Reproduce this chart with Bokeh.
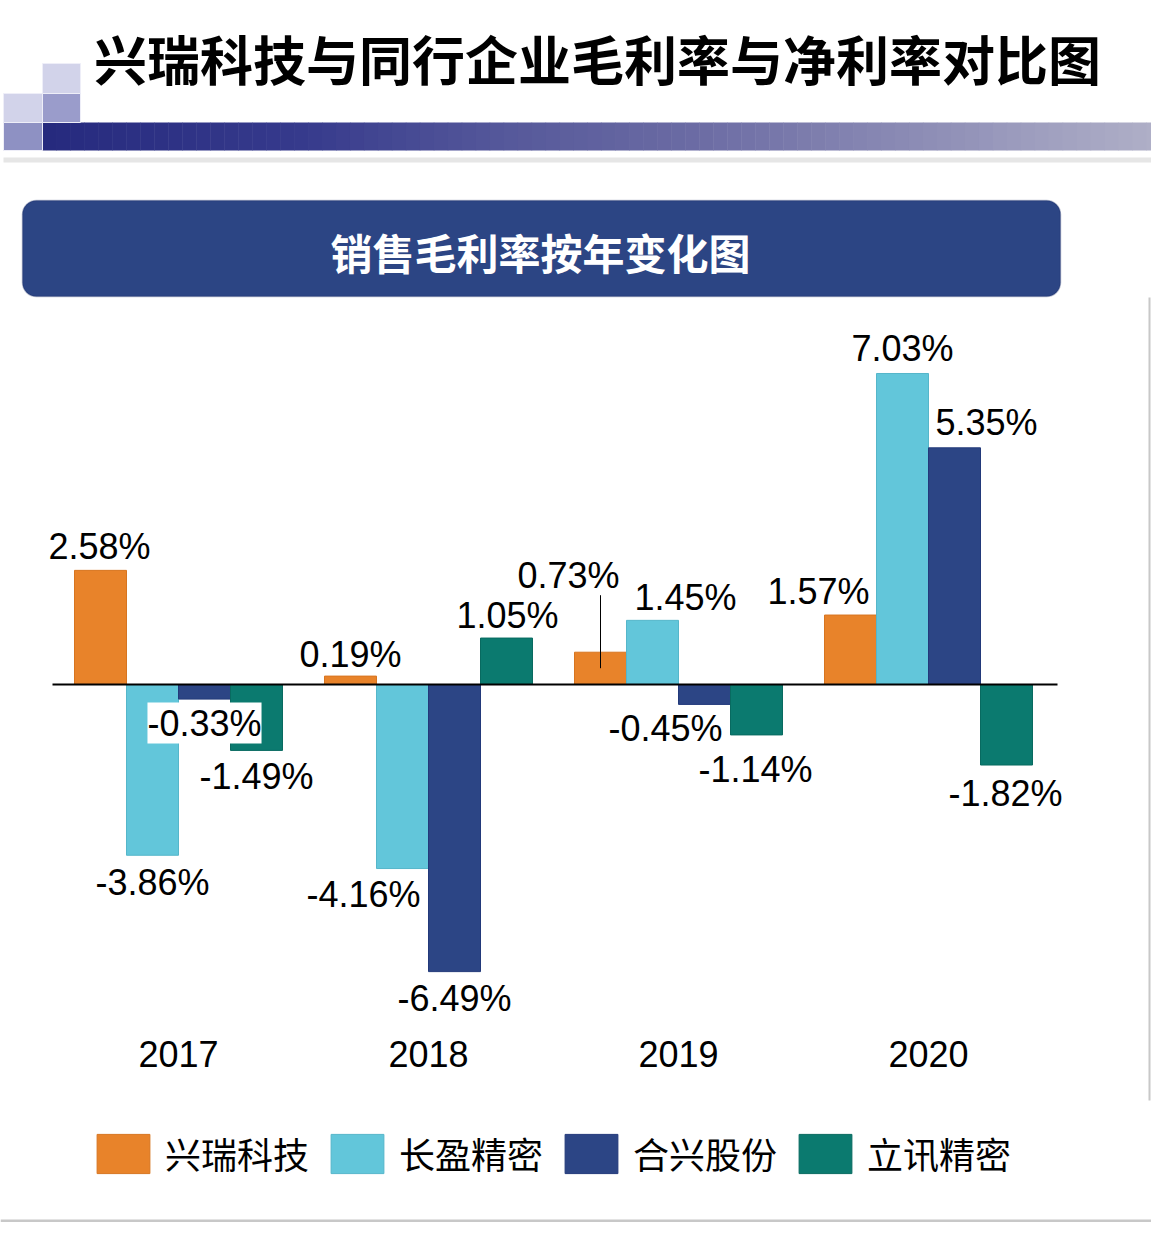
from bokeh.plotting import figure
from bokeh.models import (ColumnDataSource, LabelSet, Label, BoxAnnotation,
                          Legend, LegendItem)
from bokeh.transform import dodge
from bokeh.core.properties import value
from bokeh.embed import file_html
from bokeh.resources import INLINE

# ---------------- data ----------------
years = ["2017", "2018", "2019", "2020"]
companies = ["兴瑞科技", "长盈精密", "合兴股份", "立讯精密"]
xingrui = [2.58, 0.19, 0.73, 1.57]      # 兴瑞科技
changying = [-3.86, -4.16, 1.45, 7.03]  # 长盈精密
hexing = [-0.33, -6.49, -0.45, 5.35]    # 合兴股份
lixun = [-1.49, 1.05, -1.14, -1.82]     # 立讯精密

title_text = "兴瑞科技与同行企业毛利率与净利率对比图"
subtitle_text = "销售毛利率按年变化图"

# ---------------- style ----------------
colors = ["#E8832A", "#62C6DA", "#2C4585", "#0B7A6F"]
edge_colors = ["#D77520", "#55B6CA", "#22397A", "#086A60"]

W, H = 1151, 1222
OFF = 0                    # screenshot origin offset
GX0, GPITCH = 178, 250     # pixel x of first group centre, group pitch
Y0, PPU = 684, 44.24       # pixel y of zero line, pixels per percent


def dx(px):
    return (px - GX0) / GPITCH


def dy(py):
    return (Y0 - py) / PPU


p = figure(width=W, height=H, output_backend="svg", toolbar_location=None,
           x_range=(dx(OFF), dx(OFF + W)), y_range=(dy(OFF + H), dy(OFF)),
           x_axis_location=None, y_axis_location=None, min_border=0)
p.grid.visible = False
p.outline_line_color = None
p.background_fill_color = "white"
p.border_fill_color = "white"

# ---------------- slide decorations ----------------
def hexc(c):
    return tuple(int(c[i:i + 2], 16) for i in (1, 3, 5))


stops = [(42, "#262A7E"), (300, "#363A8C"), (500, "#55589A"),
         (700, "#6C6CA4"), (900, "#8A8AB4"), (1160, "#B0B0C8")]
seg_l, seg_r, seg_c = [], [], []
n = 80
for k in range(n):
    a = 42 + (1160 - 42) * k / n
    b = 42 + (1160 - 42) * (k + 1) / n
    m = (a + b) / 2
    for j in range(len(stops) - 1):
        if stops[j][0] <= m <= stops[j + 1][0]:
            t = (m - stops[j][0]) / (stops[j + 1][0] - stops[j][0])
            c0, c1 = hexc(stops[j][1]), hexc(stops[j + 1][1])
            c = tuple(int(round(c0[i] + (c1[i] - c0[i]) * t)) for i in range(3))
            break
    seg_l.append(dx(a)); seg_r.append(dx(b) + 0.002)
    seg_c.append("#%02x%02x%02x" % c)
p.quad(left=seg_l, right=seg_r, top=[dy(122)] * n, bottom=[dy(150)] * n,
       fill_color=seg_c, line_color=None)

# squares
sq = [(42, 80, 63, 93, "#D2D3EA"), (42, 80, 93, 122, "#9A9CCB"),
      (3, 42, 93, 122, "#D2D3EA"), (3, 42, 122, 150, "#8E91C3")]
p.quad(left=[dx(s[0]) for s in sq], right=[dx(s[1]) for s in sq],
       top=[dy(s[2]) for s in sq], bottom=[dy(s[3]) for s in sq],
       fill_color=[s[4] for s in sq], line_color="#EEEEF8", line_width=1)

# thin grey rule under the band
p.quad(left=[dx(3)], right=[dx(1170)], top=[dy(157)], bottom=[dy(162)],
       fill_color="#E6E6E6", line_color=None)

# hint of the bottom shadow
p.quad(left=[dx(0)], right=[dx(1170)], top=[dy(1219)], bottom=[dy(1223)],
       fill_color="#C8C8C8", line_color=None)

# right vertical rule
p.segment(x0=[dx(1149)], x1=[dx(1149)], y0=[dy(297)], y1=[dy(1100)],
          line_color="#C8C8C8", line_width=2)

p.add_layout(Label(x=dx(597), y=dy(57), text=title_text, text_align="center",
                   text_baseline="middle", text_font="Noto Sans CJK SC",
                   text_font_size="53px", text_font_style="bold",
                   text_color="black"))

p.add_layout(BoxAnnotation(left=dx(22), right=dx(1060), top=dy(200), bottom=dy(296),
                           fill_color="#2C4584", fill_alpha=1.0,
                           line_color="#1A2A62", line_width=1.5,
                           border_radius=14))
p.add_layout(Label(x=dx(540), y=dy(251), text=subtitle_text, text_align="center",
                   text_baseline="middle", text_font="Noto Sans CJK SC",
                   text_font_size="42px", text_font_style="bold",
                   text_color="white"))

# ---------------- bars ----------------
BW = 52 / GPITCH
offsets = [-1.5 * BW, -0.5 * BW, 0.5 * BW, 1.5 * BW]
series = [xingrui, changying, hexing, lixun]
keys = ["xr", "cy", "hx", "lx"]
src = ColumnDataSource(dict(x=list(range(len(years))), xr=xingrui, cy=changying,
                            hx=hexing, lx=lixun))
renderers = []
for key, off, col, ec in zip(keys, offsets, colors, edge_colors):
    r = p.vbar(x=dodge("x", off, range=p.x_range), top=key, bottom=0, width=BW,
               source=src, fill_color=col, line_color=ec, line_width=1)
    renderers.append(r)

# zero line
p.segment(x0=[dx(52)], x1=[dx(1057)], y0=[0], y1=[0], line_color="black", line_width=2)

# ---------------- value labels ----------------
# per-label placement (pixel shift in x, pixel distance from bar end)
label_place = {
    (0, 0): (-1, 24), (1, 0): (0, 27), (2, 0): (0, 24), (3, 0): (0, 26),
    (0, 1): (0, 22), (1, 1): (-39, 26), (2, 1): (0, 27), (3, 1): (1, 23),
    (0, 2): (-32, 77), (1, 2): (33, 23), (2, 2): (-39, 24), (3, 2): (-1, 35),
    (0, 3): (-32, 24), (1, 3): (0, 25), (2, 3): (32, 25), (3, 3): (-1, 28),
}
lx_, ly_, lt_ = [], [], []
bx_, by_, bt_ = [], [], []
for si, vals in enumerate(series):
    for gi, v in enumerate(vals):
        sx, dist = label_place[(si, gi)]
        x = gi + offsets[si] + sx / GPITCH
        y = v + (dist if v >= 0 else -dist) / PPU
        txt = f"{v:.2f}%"
        if (si, gi) == (2, 0):
            bx_.append(x); by_.append(y); bt_.append(txt)
        else:
            lx_.append(x); ly_.append(y); lt_.append(txt)

p.add_layout(LabelSet(x="x", y="y", text="t",
                      source=ColumnDataSource(dict(x=lx_, y=ly_, t=lt_)),
                      text_align="center", text_baseline="middle",
                      text_font=value("Liberation Sans"), text_font_size="36px",
                      text_color="black"))
p.add_layout(LabelSet(x="x", y="y", text="t",
                      source=ColumnDataSource(dict(x=bx_, y=by_, t=bt_)),
                      text_align="center", text_baseline="middle",
                      text_font=value("Liberation Sans"), text_font_size="36px",
                      text_color="black", background_fill_color="white",
                      background_fill_alpha=1.0))

# leader line for the 2019 兴瑞科技 label
lead_x = 2 + offsets[0]
p.segment(x0=[lead_x], x1=[lead_x], y0=[xingrui[2] - 16 / PPU],
          y1=[xingrui[2] + 57 / PPU], line_color="black", line_width=1)

# year labels
p.add_layout(LabelSet(x="x", y="y", text="t",
                      source=ColumnDataSource(dict(x=list(range(len(years))),
                                                   y=[dy(1053)] * len(years),
                                                   t=years)),
                      text_align="center", text_baseline="middle",
                      text_font=value("Liberation Sans"), text_font_size="36px",
                      text_color="black"))

# ---------------- legend ----------------
legend = Legend(items=[LegendItem(label=c, renderers=[r])
                       for c, r in zip(companies, renderers)],
                orientation="horizontal", location=(90, 43),
                glyph_width=66, glyph_height=49, label_standoff=9, spacing=15,
                padding=0, margin=0, border_line_color=None,
                background_fill_alpha=0,
                label_text_font="Noto Sans CJK SC", label_text_font_size="36px",
                label_text_color="black")
p.add_layout(legend)

open("out.html", "w").write(file_html(p, INLINE))
